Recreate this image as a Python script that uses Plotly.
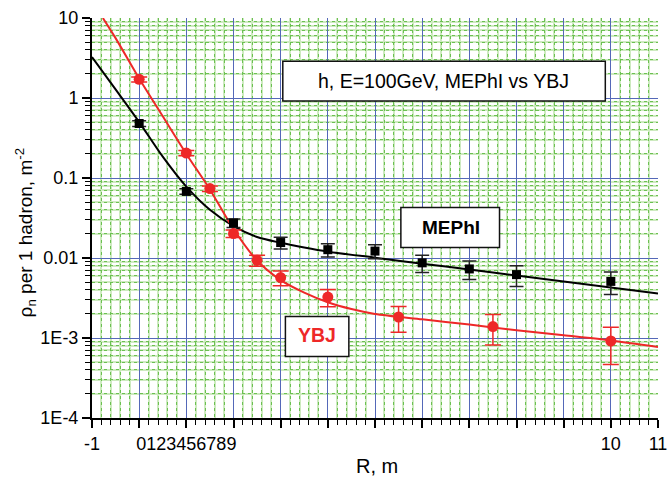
import plotly.graph_objects as go

# ---------------- data ----------------
mephi_r = [0, 1, 2, 3, 4, 5, 6, 7, 8, 10]
mephi_rho = [0.48, 0.068, 0.0274, 0.0156, 0.0127, 0.0122, 0.0087, 0.0073, 0.0062, 0.0051]
mephi_err = [0.04, 0.0055, 0.0033, 0.0026, 0.0024, 0.0024, 0.0021, 0.0019, 0.0018, 0.0016]

ybj_r = [0, 1, 1.5, 2, 2.5, 3, 4, 5.5, 7.5, 10]
ybj_rho = [1.71, 0.205, 0.0737, 0.0202, 0.00936, 0.00569, 0.00325, 0.00183, 0.00139, 0.000917]
ybj_err = [0.12, 0.015, 0.006, 0.0022, 0.0015, 0.0012, 0.0008, 0.00065, 0.00057, 0.00045]

mephi_fit_r = [-1, -0.5, 0, 0.5, 1, 1.5, 2, 2.5, 3, 3.5, 4, 5, 6, 7, 8, 9, 10, 11]
mephi_fit_rho = [3.25, 1.28, 0.50, 0.185, 0.078, 0.040, 0.0250, 0.0183, 0.0155, 0.0135,
                 0.0120, 0.0101, 0.0085, 0.00717, 0.00604, 0.00509, 0.00429, 0.00361]

ybj_fit_r = [-0.77, -0.5, 0, 0.5, 1, 1.5, 2, 2.5, 3, 3.5, 4, 4.5, 5, 6, 7, 8, 9, 10, 11]
ybj_fit_rho = [10, 5.6, 1.75, 0.59, 0.20, 0.072, 0.023, 0.0093, 0.0053, 0.0037, 0.0028,
               0.0023, 0.0020, 0.00171, 0.00147, 0.00125, 0.00108, 0.00093, 0.00077]

x_tickvals = [-1, 0, 1, 2, 3, 4, 5, 6, 7, 8, 9, 10, 11]
x_ticktext = ["-1", "", "0123456789", "", "", "", "", "", "", "", "", "10", "11"]
y_tickvals = [1e-4, 1e-3, 1e-2, 1e-1, 1, 10]
y_ticktext = ["1E-4", "1E-3", "0.01", "0.1", "1", "10"]

# ---------------- styling ----------------
RED = "#ee2828"
BLACK = "#000000"
FONT = "Liberation Sans, Arial, sans-serif"

x_minor = [round(-1 + 0.2 * k, 3) for k in range(61) if k % 5 != 0]
y_minor = [m * 10 ** e for e in range(-4, 1) for m in range(2, 10)]

fig = go.Figure()

fig.add_trace(go.Scatter(x=mephi_fit_r, y=mephi_fit_rho, mode="lines",
                         line=dict(color=BLACK, width=2, shape="spline", smoothing=0.8),
                         hoverinfo="skip", showlegend=False))
fig.add_trace(go.Scatter(x=ybj_fit_r, y=ybj_fit_rho, mode="lines",
                         line=dict(color=RED, width=2, shape="spline", smoothing=0.8),
                         hoverinfo="skip", showlegend=False))
fig.add_trace(go.Scatter(x=mephi_r, y=mephi_rho, mode="markers",
                         marker=dict(symbol="square", size=9, color=BLACK),
                         error_y=dict(type="data", array=mephi_err, color="#222222",
                                      thickness=1.5, width=7),
                         showlegend=False, name="MEPhI"))
fig.add_trace(go.Scatter(x=ybj_r, y=ybj_rho, mode="markers",
                         marker=dict(symbol="circle", size=11, color=RED),
                         error_y=dict(type="data", array=ybj_err, color=RED,
                                      thickness=1.5, width=8),
                         showlegend=False, name="YBJ"))
# empty trace to make the overlay grid axes exist
fig.add_trace(go.Scatter(x=[], y=[], xaxis="x2", yaxis="y2", showlegend=False,
                         hoverinfo="skip"))

fig.update_layout(
    width=669, height=477,
    margin=dict(l=92, r=11.3, t=17.7, b=59.3),
    paper_bgcolor="white", plot_bgcolor="white",
    font=dict(family=FONT, size=18, color="black"),
    xaxis=dict(
        range=[-1, 11], tickmode="array", tickvals=x_tickvals, ticktext=x_ticktext,
        tickangle=0, automargin=False,
        showline=True, linecolor="black", linewidth=2,
        ticks="outside", ticklen=8, tickwidth=1.5, tickcolor="black",
        showgrid=True, gridcolor="#5468b8", gridwidth=1.2, zeroline=False,
        tickfont=dict(size=18),
        minor=dict(tickmode="array", tickvals=x_minor, ticks="outside", ticklen=5,
                   tickwidth=1.2, tickcolor="black",
                   showgrid=True, gridcolor="#cdeabf", gridwidth=1.5),
    ),
    yaxis=dict(
        type="log", range=[-4, 1], tickmode="array", tickvals=y_tickvals,
        ticktext=y_ticktext, automargin=False,
        showline=True, linecolor="black", linewidth=2,
        ticks="outside", ticklen=8, tickwidth=1.5, tickcolor="black",
        showgrid=True, gridcolor="#5468b8", gridwidth=1.2, zeroline=False,
        tickfont=dict(size=18),
        minor=dict(tickmode="array", tickvals=y_minor, ticks="outside", ticklen=5,
                   tickwidth=1.2, tickcolor="black",
                   showgrid=True, gridcolor="#cdeabf", gridwidth=1.5),
    ),
    xaxis2=dict(
        overlaying="x", anchor="y2", range=[-1, 11], showticklabels=False,
        showline=False, ticks="", showgrid=False, zeroline=False, automargin=False,
        tickmode="array", tickvals=x_tickvals,
        minor=dict(tickmode="array", tickvals=x_minor, ticks="", showgrid=True,
                   gridcolor="#6cc052", gridwidth=1, griddash="dot"),
    ),
    yaxis2=dict(
        overlaying="y", anchor="x2", type="log", range=[-4, 1], showticklabels=False,
        showline=False, ticks="", showgrid=False, zeroline=False, automargin=False,
        tickmode="array", tickvals=y_tickvals,
        minor=dict(tickmode="array", tickvals=y_minor, ticks="", showgrid=True,
                   gridcolor="#6cc052", gridwidth=1, griddash="dot"),
    ),
)

# boxes
boxes = [
    (0.3371, 0.7925, 0.9069, 0.8918),
    (0.5457, 0.4260, 0.7200, 0.5260),
    (0.3417, 0.1535, 0.4538, 0.2535),
]
for x0, y0, x1, y1 in boxes:
    fig.add_shape(type="rect", xref="paper", yref="paper", x0=x0, y0=y0, x1=x1, y1=y1,
                  line=dict(color="#111111", width=1.5), fillcolor="white", layer="above")

def label(x, y, text, size, color="black", angle=0):
    fig.add_annotation(xref="paper", yref="paper", x=x, y=y, showarrow=False,
                       xanchor="center", yanchor="middle", textangle=angle,
                       text=text, font=dict(family=FONT, size=size, color=color))

label(0.6219, 0.8423, "h, E=100GeV, MEPhI vs YBJ", 19.5)
label(0.6338, 0.4775, "<b>MEPhI</b>", 19)
label(0.3981, 0.2068, "<b>YBJ</b>", 19.5, RED)

# axis titles
label(0.5038, -0.1208, "R, m", 20)
label(-0.1184, 0.464, "ρ<sub>n</sub> per 1 hadron, m<sup>-2</sup>", 19, angle=-90)

fig.write_html("out.html")
